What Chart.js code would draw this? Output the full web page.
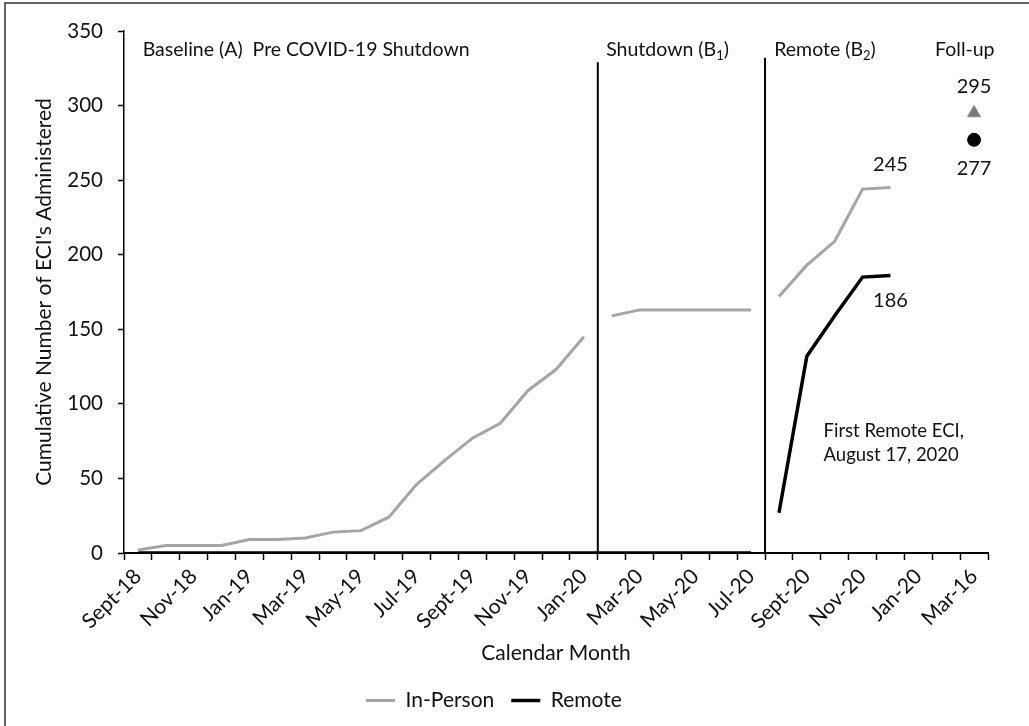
<!DOCTYPE html>
<html>
<head>
<meta charset="utf-8">
<script src="https://cdn.jsdelivr.net/npm/chart.js@4.4.0/dist/chart.umd.min.js"></script>
<style>
  html, body { margin: 0; padding: 0; background: #fff; }
  #wrap { position: relative; width: 1029px; height: 726px; }
</style>
</head>
<body>
<div id="wrap"><canvas id="chart" width="1029" height="726"></canvas></div>
<script>
// months on the x axis (only every other one gets a label, as in the original)
const months = [
  "Sept-18", "Oct-18", "Nov-18", "Dec-18", "Jan-19", "Feb-19", "Mar-19", "Apr-19",
  "May-19", "Jun-19", "Jul-19", "Aug-19", "Sept-19", "Oct-19", "Nov-19", "Dec-19",
  "Jan-20", "Feb-20", "Mar-20", "Apr-20", "May-20", "Jun-20", "Jul-20", "Aug-20",
  "Sept-20", "Oct-20", "Nov-20", "Dec-20", "Jan-20", "Feb-21", "Mar-16"
];

// cumulative ECIs
const inPerson = [2, 5, 5, 5, 9, 9, 10, 14, 15, 24, 46, 62, 77, 87, 109, 123, 145,
  159, 163, 163, 163, 163, 163,
  172, 193, 209, 244, 245, null, null, null];
const remote = [0, 0, 0, 0, 0, 0, 0, 0, 0, 0, 0, 0, 0, 0, 0, 0, 0,
  0, 0, 0, 0, 0, 0,
  27, 132, 159, 185, 186, null, null, null];

// follow-up points (last category)
const followInPerson = [null, null, null, null, null, null, null, null, null, null,
  null, null, null, null, null, null, null, null, null, null,
  null, null, null, null, null, null, null, null, null, null, 295];
const followRemote = [null, null, null, null, null, null, null, null, null, null,
  null, null, null, null, null, null, null, null, null, null,
  null, null, null, null, null, null, null, null, null, null, 277];

const yTicks = [0, 50, 100, 150, 200, 250, 300, 350];

// phase breaks: line is not drawn from index -> index+1
const inPersonBreaks = [16, 22];
const remoteBreaks = [22];

const FONT = "Lato";

// vertical phase lines + text notes
const notesPlugin = {
  id: "notes",
  beforeDraw(chart) {
    const ctx = chart.ctx;
    ctx.save();
    ctx.fillStyle = "#fff";
    ctx.fillRect(0, 0, chart.width, chart.height);
    // frame (only left/top edge visible in the picture)
    ctx.strokeStyle = "#333";
    ctx.lineWidth = 1.5;
    ctx.strokeRect(5, 3, chart.width + 10, chart.height + 10);
    ctx.restore();
  },
  afterDatasetsDraw(chart) {
    const ctx = chart.ctx;
    const x = chart.scales.x, y = chart.scales.y;
    ctx.save();
    ctx.strokeStyle = "#000";
    ctx.lineWidth = 2;
    [[16.5, 329], [22.5, 332]].forEach(([i, top]) => {
      const px = x.getPixelForValue(i);
      ctx.beginPath();
      ctx.moveTo(px, y.getPixelForValue(top));
      ctx.lineTo(px, y.getPixelForValue(0));
      ctx.stroke();
    });

    ctx.fillStyle = "#111";
    ctx.textBaseline = "alphabetic";
    const txt = (s, i, v, align) => {
      ctx.textAlign = align || "left";
      ctx.fillText(s, x.getPixelForValue(i), y.getPixelForValue(v));
    };
    ctx.font = "19.5px " + FONT;
    txt("Baseline (A)  Pre COVID-19 Shutdown", 0.17, 333);
    txt("Foll-up", 28.6, 333);
    // labels with subscripts
    const sub = (pre, s, post, i, v) => {
      let px = x.getPixelForValue(i);
      const py = y.getPixelForValue(v);
      ctx.textAlign = "left";
      ctx.font = "19.5px " + FONT;
      ctx.fillText(pre, px, py);
      px += ctx.measureText(pre).width;
      ctx.font = "13px " + FONT;
      ctx.fillText(s, px, py + 4);
      px += ctx.measureText(s).width;
      ctx.font = "19.5px " + FONT;
      ctx.fillText(post, px, py);
    };
    sub("Shutdown (B", "1", ")", 16.8, 333);
    sub("Remote (B", "2", ")", 22.83, 333);

    ctx.font = "20px " + FONT;
    txt("295", 30, 308.5, "center");
    txt("277", 30, 253.5, "center");
    txt("245", 27, 256, "center");
    txt("186", 27, 165, "center");
    ctx.font = "18.5px " + FONT;
    txt("First Remote ECI,", 24.6, 77.5);
    txt("August 17, 2020", 24.6, 61.5);
    ctx.restore();
  }
};

const hidden = "rgba(0,0,0,0)";

new Chart(document.getElementById("chart"), {
  type: "line",
  data: {
    labels: months,
    datasets: [
      {
        label: "In-Person",
        data: inPerson,
        borderColor: "#a5a5a5",
        backgroundColor: "#a5a5a5",
        borderWidth: 3,
        pointRadius: 0,
        tension: 0,
        segment: {
          borderColor: c => inPersonBreaks.includes(c.p0DataIndex) ? hidden : undefined
        }
      },
      {
        label: "Remote",
        data: remote,
        borderColor: "#000",
        backgroundColor: "#000",
        borderWidth: 3.5,
        pointRadius: 0,
        tension: 0,
        segment: {
          borderColor: c => remoteBreaks.includes(c.p0DataIndex) ? hidden : undefined
        }
      },
      {
        label: "Follow-up In-Person",
        data: followInPerson,
        showLine: false,
        pointStyle: "triangle",
        pointRadius: 7.5,
        pointBackgroundColor: "#7a7a7a",
        pointBorderColor: "#8a8a8a",
        pointBorderWidth: 1
      },
      {
        label: "Follow-up Remote",
        data: followRemote,
        showLine: false,
        pointStyle: "circle",
        pointRadius: 7,
        pointBackgroundColor: "#000",
        pointBorderColor: "#000",
        pointBorderWidth: 0
      }
    ]
  },
  options: {
    responsive: false,
    animation: false,
    layout: { padding: { left: 0, right: 41, top: 31, bottom: 5 } },
    plugins: {
      tooltip: { enabled: false },
      legend: {
        position: "bottom",
        labels: {
          filter: item => item.datasetIndex < 2,
          usePointStyle: true,
          pointStyle: "line",
          pointStyleWidth: 29,
          padding: 17,
          color: "#111",
          font: { family: FONT, size: 21 }
        }
      }
    },
    scales: {
      x: {
        offset: true,
        grid: {
          offset: true,
          drawOnChartArea: false,
          drawTicks: true,
          tickLength: 7,
          tickColor: "#000",
          tickWidth: 1.5
        },
        border: { color: "#000", width: 2 },
        ticks: {
          autoSkip: false,
          minRotation: 45,
          maxRotation: 45,
          padding: 4,
          color: "#111",
          font: { family: FONT, size: 21 },
          callback: (v, i) => (i % 2 === 0 ? months[i] : "")
        },
        title: {
          display: true,
          text: "Calendar Month",
          color: "#111",
          font: { family: FONT, size: 21 },
          padding: { top: 0, bottom: 7 }
        },
        afterFit: s => { s.height = 120; }
      },
      y: {
        min: 0,
        max: 350,
        afterBuildTicks: s => { s.ticks = yTicks.map(v => ({ value: v })); },
        grid: {
          drawOnChartArea: false,
          drawTicks: true,
          tickLength: 6,
          tickColor: "#000",
          tickWidth: 1.5
        },
        border: { color: "#000", width: 1.5 },
        ticks: {
          padding: 15,
          color: "#111",
          font: { family: FONT, size: 20.5 }
        },
        title: {
          display: true,
          text: "Cumulative Number of ECI's Administered",
          color: "#111",
          font: { family: FONT, size: 21 },
          padding: { top: 32, bottom: 0 }
        },
        afterFit: s => { s.width = 124; }
      }
    }
  },
  plugins: [notesPlugin]
});
</script>
</body>
</html>
